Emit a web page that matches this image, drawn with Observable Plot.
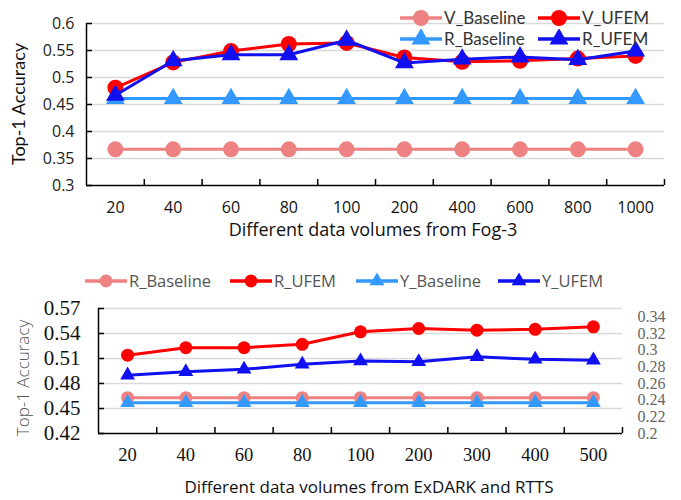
<!DOCTYPE html>
<html><head><meta charset="utf-8">
<script src="https://cdn.jsdelivr.net/npm/d3@7"></script>
<script src="https://cdn.jsdelivr.net/npm/@observablehq/plot@0.6"></script>
<style>
body{margin:0;background:#fff;}
#wrap{position:relative;width:681px;height:500px;overflow:hidden;background:#fff;}
.abs{position:absolute;white-space:nowrap;line-height:1.1;}
.abs svg{display:block;}
.leg{position:absolute;display:flex;align-items:center;white-space:nowrap;}
</style></head><body><div id="wrap"></div>
<script>
// ---------- Top panel data (Fog-3) ----------
const topCats = ["20","40","60","80","100","200","400","600","800","1000"];
const topYTicks = [0.3,0.35,0.4,0.45,0.5,0.55,0.6];
const vBaseline = [0.367,0.367,0.367,0.367,0.367,0.367,0.367,0.367,0.367,0.367];
const vUFEM     = [0.481,0.528,0.549,0.562,0.564,0.537,0.529,0.531,0.535,0.540];
const rBaselineTop = [0.461,0.461,0.461,0.461,0.461,0.461,0.461,0.461,0.461,0.461];
const rUFEMTop  = [0.467,0.531,0.542,0.542,0.569,0.527,0.534,0.538,0.533,0.549];

// ---------- Bottom panel data (ExDARK and RTTS) ----------
const botCats = ["20","40","60","80","100","200","300","400","500"];
const botYTicks = [0.42,0.45,0.48,0.51,0.54,0.57];
const botRightTicks = [0.2,0.22,0.24,0.26,0.28,0.3,0.32,0.34];
const rBaselineBot = [0.463,0.463,0.463,0.463,0.463,0.463,0.463,0.463,0.463];
const rUFEMBot  = [0.514,0.523,0.523,0.527,0.542,0.546,0.544,0.545,0.548];
const yBaseline = [0.457,0.457,0.457,0.457,0.457,0.457,0.457,0.457,0.457];
const yUFEM     = [0.490,0.494,0.497,0.503,0.507,0.506,0.512,0.509,0.508];

const C = {coral:"#EE8282", red:"#FF0000", lblue:"#3399FF", blue:"#1010F0"};

const wrap = document.getElementById("wrap");
function place(el, x, y){ el.style.left = x+"px"; el.style.top = y+"px"; wrap.appendChild(el); return el; }

function buildPanel(o){
  const n = o.cats.length;
  const W = o.width, H = o.height;
  const step = (W - o.mL - o.mR) / n;
  const plotH = H - o.mT - o.mB;
  const [y0, y1] = o.yDomain;
  const tickX = 6 / step;
  const tickY = 6 / plotH * (y1 - y0);
  const fmt = d => String(+d.toFixed(2));
  const marks = [
    Plot.ruleY(o.yTicks.filter(d => d > y0), {y: d => d, stroke: "#d9d9d9", strokeWidth: 1.5}),
    Plot.ruleX([-0.5], {x: d => d, y1: y0, y2: y1, stroke: "#000", strokeWidth: 1.5}),
    Plot.ruleY([y0], {y: d => d, stroke: "#000", strokeWidth: 1.5}),
    Plot.ruleX(d3.range(1, n + 1), {x: d => d - 0.5, y1: y0, y2: y0 + tickY, stroke: "#000", strokeWidth: 1.5}),
    Plot.ruleY(o.yTicks, {y: d => d, x1: -0.5, x2: -0.5 + tickX, stroke: "#000", strokeWidth: 1.5}),
    Plot.text(o.yTicks, {x: -0.5, y: d => d, text: fmt, textAnchor: "end", dx: o.yLabelDx,
      fontSize: o.yFontSize, fontFamily: o.yFont, fill: o.yFill}),
    Plot.text(o.cats, {x: (d, i) => i, y: y0, dy: o.xLabelDy, text: d => d, fontSize: o.xFontSize,
      fontFamily: o.xFont, fill: "#111"})
  ];
  if (o.rightTicks) {
    marks.push(Plot.text(o.rightTicks, {x: n - 0.5, y: d => d + o.rightShift, text: fmt, textAnchor: "start",
      dx: 15, fontSize: 16, fontFamily: "Liberation Serif", fill: "#666"}));
  }
  for (const s of o.series) {
    const data = s.values.map((v, i) => ({i, v}));
    marks.push(Plot.line(data, {x: "i", y: "v", stroke: s.color, strokeWidth: s.lw}));
    marks.push(Plot.dot(data, {x: "i", y: "v", fill: s.color, stroke: "none", symbol: s.symbol, r: s.r}));
  }
  return Plot.plot({
    width: W, height: H, marginLeft: o.mL, marginRight: o.mR, marginTop: o.mT, marginBottom: o.mB,
    x: {type: "linear", domain: [-0.5, n - 0.5], axis: null},
    y: {type: "linear", domain: o.yDomain, axis: null},
    style: {background: "transparent", overflow: "visible"},
    marks
  });
}

function swatch(color, symbol, r){
  const ns = "http://www.w3.org/2000/svg";
  const svg = document.createElementNS(ns, "svg");
  svg.setAttribute("width", 44); svg.setAttribute("height", 20);
  const line = document.createElementNS(ns, "line");
  line.setAttribute("x1", 1); line.setAttribute("x2", 43); line.setAttribute("y1", 10); line.setAttribute("y2", 10);
  line.setAttribute("stroke", color); line.setAttribute("stroke-width", 3.5);
  svg.appendChild(line);
  const p = document.createElementNS(ns, "path");
  const sym = symbol === "circle" ? d3.symbolCircle : d3.symbolTriangle;
  p.setAttribute("d", d3.symbol(sym, Math.PI * r * r)());
  p.setAttribute("transform", "translate(22,10)");
  p.setAttribute("fill", color);
  svg.appendChild(p);
  return svg;
}
function legendItem(x, y, color, symbol, r, label, font, size, fill){
  const d = document.createElement("div");
  d.className = "leg";
  d.appendChild(swatch(color, symbol, r));
  const s = document.createElement("span");
  s.textContent = label;
  s.style.cssText = `font-family:${font};font-size:${size}px;color:${fill};margin-left:1px;`;
  d.appendChild(s);
  place(d, x, y - 10);
}
function textDiv(txt, x, y, css, rotate){
  const d = document.createElement("div");
  d.className = "abs";
  d.textContent = txt;
  d.style.cssText += css;
  place(d, x, y);
  d.style.transform = rotate ? "translate(-50%,-50%) rotate(-90deg)" : "translate(-50%,-50%)";
  return d;
}

// ---------- Top panel ----------
const topPlot = buildPanel({
  cats: topCats, yDomain: [0.3, 0.6], yTicks: topYTicks,
  width: 681, height: 245, mL: 86, mR: 17, mT: 23, mB: 60,
  yLabelDx: -12, yFontSize: 16, yFont: "Open Sans", yFill: "#222",
  xLabelDy: 22, xFontSize: 16, xFont: "Open Sans",
  series: [
    {values: vBaseline, color: C.coral, symbol: "circle", r: 8, lw: 3},
    {values: rBaselineTop, color: C.lblue, symbol: "triangle", r: 7, lw: 3},
    {values: vUFEM, color: C.red, symbol: "circle", r: 8, lw: 3},
    {values: rUFEMTop, color: C.blue, symbol: "triangle", r: 7, lw: 3}
  ]
});
const topDiv = document.createElement("div"); topDiv.className = "abs"; topDiv.appendChild(topPlot);
place(topDiv, 0, 0);
textDiv("Top-1 Accuracy", 19, 104, "font-family:Lato;font-size:18px;color:#111;", true);
textDiv("Different data volumes from Fog-3", 373, 230, "font-family:'Open Sans';font-size:18px;color:#111;", false);
legendItem(399, 17, C.coral, "circle", 8, "V_Baseline", "Lato", 17, "#333");
legendItem(537, 17, C.red, "circle", 8, "V_UFEM", "Lato", 17, "#333");
legendItem(399, 38, C.lblue, "triangle", 7, "R_Baseline", "Lato", 17, "#333");
legendItem(537, 38, C.blue, "triangle", 7, "R_UFEM", "Lato", 17, "#333");

// ---------- Bottom panel ----------
const botPlot = buildPanel({
  cats: botCats, yDomain: [0.42, 0.57], yTicks: botYTicks, rightTicks: botRightTicks, rightShift: 0.22,
  width: 681, height: 210, mL: 98, mR: 59, mT: 18, mB: 67,
  yLabelDx: -18, yFontSize: 21, yFont: "Liberation Serif", yFill: "#111",
  xLabelDy: 22, xFontSize: 18.5, xFont: "Liberation Serif",
  series: [
    {values: rBaselineBot, color: C.coral, symbol: "circle", r: 6.5, lw: 3},
    {values: rUFEMBot, color: C.red, symbol: "circle", r: 6.5, lw: 3},
    {values: yBaseline, color: C.lblue, symbol: "triangle", r: 5.5, lw: 3},
    {values: yUFEM, color: C.blue, symbol: "triangle", r: 5.5, lw: 3}
  ]
});
const botDiv = document.createElement("div"); botDiv.className = "abs"; botDiv.appendChild(botPlot);
place(botDiv, 0, 290);
textDiv("Top-1 Accuracy", 23, 378, "font-family:'Open Sans';font-weight:300;font-size:17px;color:#555;", true);
textDiv("Different data volumes from ExDARK and RTTS", 369, 487, "font-family:'Open Sans';font-size:17px;color:#111;", false);
legendItem(84, 279, C.coral, "circle", 6.5, "R_Baseline", "'Open Sans'", 16.5, "#555");
legendItem(229, 279, C.red, "circle", 6.5, "R_UFEM", "'Open Sans'", 16.5, "#555");
legendItem(355, 279, C.lblue, "triangle", 5.5, "Y_Baseline", "'Open Sans'", 16.5, "#555");
legendItem(497, 279, C.blue, "triangle", 5.5, "Y_UFEM", "'Open Sans'", 16.5, "#555");
</script></body></html>
